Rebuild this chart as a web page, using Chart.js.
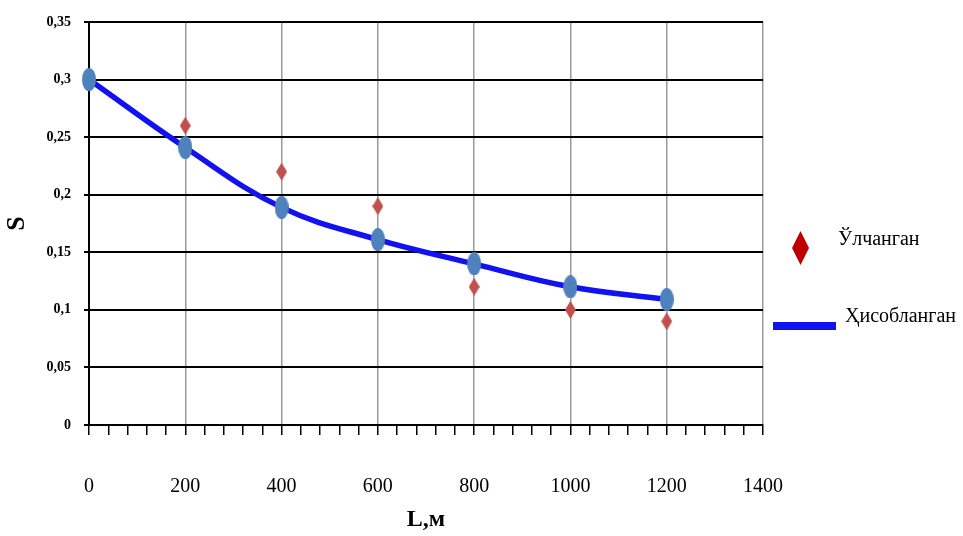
<!DOCTYPE html>
<html>
<head>
<meta charset="utf-8">
<script src="https://cdn.jsdelivr.net/npm/chart.js@4/dist/chart.umd.min.js"></script>
<style>
  html, body { margin: 0; padding: 0; background: #fff; }
  #wrap { position: relative; width: 963px; height: 536px; }
  #legend { position: absolute; left: 0; top: 0; font-family: 'Liberation Serif', serif; font-size: 20px; color: #000; }
  #legend .txt { position: absolute; white-space: nowrap; line-height: 1; }
  #legend .mark { position: absolute; }
</style>
</head>
<body>
<div id="wrap">
  <canvas id="chart" width="963" height="536"></canvas>
  <div id="legend"></div>
</div>
<script>
/* S(L) — ўлчанган ва ҳисобланган қийматлар */

const distances = [0, 200, 400, 600, 800, 1000, 1200];
const calculated = [0.300, 0.241, 0.189, 0.161, 0.140, 0.120, 0.109];
const measuredX = [200, 400, 600, 800, 1000, 1200];
const measured = [0.26, 0.22, 0.19, 0.12, 0.10, 0.09];
const xTicks = [0, 200, 400, 600, 800, 1000, 1200, 1400];
const yTicks = [0, 0.05, 0.1, 0.15, 0.2, 0.25, 0.3, 0.35];
const seriesNames = ['Ўлчанган', 'Ҳисобланган'];

// small canvases used as point styles (markers are taller than wide)
function ellipseImg(w, h, color) {
    const c = document.createElement('canvas');
    c.width = w; c.height = h;
    const g = c.getContext('2d');
    g.fillStyle = color;
    g.beginPath();
    g.ellipse(w / 2, h / 2, w / 2, h / 2, 0, 0, Math.PI * 2);
    g.fill();
    return c;
}
function diamondImg(w, h, color) {
    const c = document.createElement('canvas');
    c.width = w; c.height = h;
    const g = c.getContext('2d');
    g.fillStyle = color;
    g.beginPath();
    g.moveTo(w / 2, 0); g.lineTo(w, h / 2); g.lineTo(w / 2, h); g.lineTo(0, h / 2);
    g.closePath();
    g.fill();
    return c;
}

const comma = v => String(v).replace('.', ',');

Chart.defaults.font.family = "'Liberation Serif', 'Times New Roman', serif";
Chart.defaults.color = '#000';

const ctx = document.getElementById('chart');
new Chart(ctx.getContext('2d'), {
    type: 'scatter',
    data: {
        datasets: [
            {
                label: seriesNames[1],
                data: distances.map((x, i) => ({x: x, y: calculated[i]})),
                showLine: true,
                borderColor: '#1212f0',
                borderWidth: 5.5,
                tension: 0.4,
                pointStyle: ellipseImg(14, 23, '#4f81bd'),
                clip: false,
                order: 2,
            },
            {
                label: seriesNames[0],
                data: measuredX.map((x, i) => ({x: x, y: measured[i]})),
                showLine: false,
                pointStyle: diamondImg(11, 18, '#c0504d'),
                clip: false,
                order: 1,
            },
        ]
    },
    options: {
        responsive: false,
        animation: false,
        layout: { padding: { top: 22, right: 200, bottom: 0, left: 2 } },
        plugins: {
            legend: { display: false },
            tooltip: { enabled: false },
        },
        scales: {
            x: {
                type: 'linear',
                min: 0,
                max: 1400,
                afterBuildTicks: axis => {
                    const t = [];
                    for (let v = 0; v <= 1400; v += 40) t.push({value: v});
                    axis.ticks = t;
                },
                afterFit: axis => { axis.height = 111; },
                ticks: {
                    autoSkip: false,
                    maxRotation: 0,
                    padding: 40,
                    font: { size: 20 },
                    callback: v => (xTicks.includes(v) ? String(v) : ''),
                },
                grid: {
                    color: c => (c.tick && xTicks.includes(c.tick.value) ? '#9a9a9a' : 'transparent'),
                    lineWidth: 1.5,
                    tickColor: '#000',
                    tickLength: 10,
                    tickWidth: 1.5,
                },
                border: { color: '#000', width: 2 },
                title: {
                    display: true,
                    text: 'L,м',
                    font: { size: 24, weight: 'bold' },
                    padding: { top: 0, bottom: 2 },
                },
            },
            y: {
                min: 0,
                max: 0.35,
                afterBuildTicks: axis => { axis.ticks = yTicks.map(v => ({value: v})); },
                afterFit: axis => { axis.width = 87; },
                ticks: {
                    padding: 13,
                    font: { size: 14, weight: 'bold' },
                    callback: v => comma(v),
                },
                grid: {
                    color: '#000',
                    lineWidth: 2,
                    tickColor: '#000',
                    tickLength: 5,
                },
                border: { color: '#000', width: 2 },
                title: {
                    display: true,
                    text: 'S',
                    font: { size: 26, weight: 'bold' },
                    padding: { top: 0, bottom: 0 },
                },
            },
        },
    },
});

// legend, placed to the right of the plot
const legend = document.getElementById('legend');
legend.innerHTML =
    '<div class="mark" style="left:792px;top:231px;width:17px;height:34px;background:#c00000;' +
    'clip-path:polygon(50% 0,100% 50%,50% 100%,0 50%);"></div>' +
    '<div class="txt" style="left:838px;top:228px;">' + seriesNames[0] + '</div>' +
    '<div class="mark" style="left:773px;top:322px;width:63px;height:8px;background:#1212f0;"></div>' +
    '<div class="txt" style="left:845px;top:305px;">' + seriesNames[1] + '</div>';
</script>
</body>
</html>
